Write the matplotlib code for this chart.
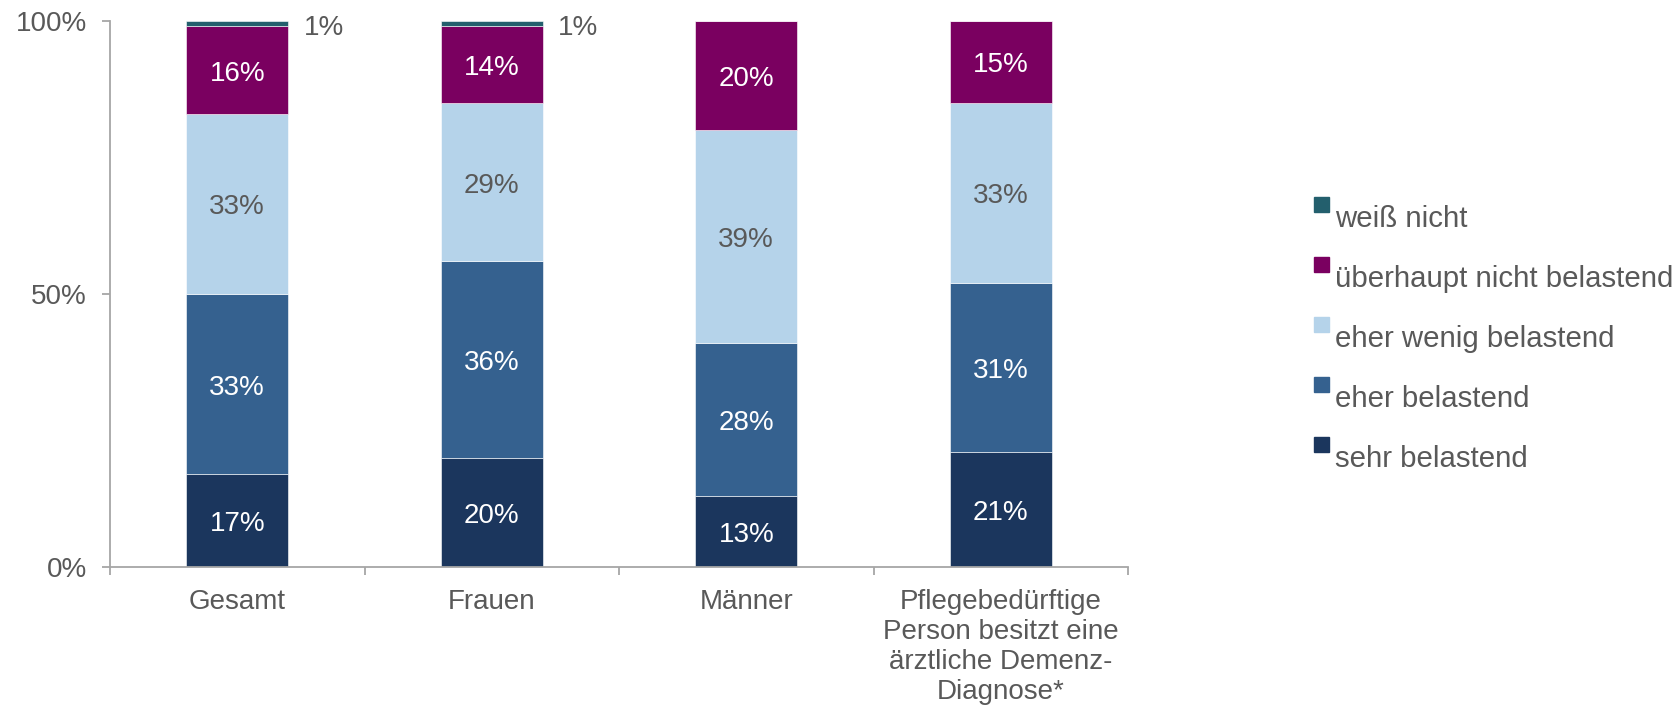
import matplotlib
matplotlib.use("Agg")
import matplotlib.pyplot as plt
from matplotlib.patches import Rectangle
import numpy as np

plt.rcParams['font.family'] = ['Liberation Sans', 'DejaVu Sans']

categories = ["Gesamt", "Frauen", "Männer",
              "Pflegebedürftige\nPerson besitzt eine\närztliche Demenz-\nDiagnose*"]
series_names = ["sehr belastend", "eher belastend", "eher wenig belastend",
                "überhaupt nicht belastend", "weiß nicht"]
sehr_belastend = [17, 20, 13, 21]
eher_belastend = [33, 36, 28, 31]
eher_wenig_belastend = [33, 29, 39, 33]
ueberhaupt_nicht_belastend = [16, 14, 20, 15]
weiss_nicht = [1, 1, 0, 0]
y_ticks = [0, 50, 100]
y_tick_labels = ["0%", "50%", "100%"]

series = [sehr_belastend, eher_belastend, eher_wenig_belastend,
          ueberhaupt_nicht_belastend, weiss_nicht]
colors = ["#1b365d", "#35618f", "#b5d3ea", "#7a0060", "#235f6d"]
label_colors = ["white", "white", "#595959", "white", "#595959"]
gray = "#595959"
axis_gray = "#a6a6a6"
fs = 20

fig = plt.figure(figsize=(16.77, 7.13), dpi=100)
ax = fig.add_axes([110 / 1677, 1 - 567 / 713, (1128 - 110) / 1677, (567 - 21) / 713])

x = np.arange(len(categories))
width = 0.4
bottom = np.zeros(len(categories))
for vals, col, lc in zip(series, colors, label_colors):
    vals = np.array(vals, dtype=float)
    ax.bar(x, vals, width, bottom=bottom, color=col, edgecolor="white", linewidth=0.4)
    for i, v in enumerate(vals):
        if v <= 0:
            continue
        if v >= 5:
            ax.annotate(f"{v:.0f}%", xy=(x[i], bottom[i] + v / 2),
                        xytext=(0, -2.5), textcoords="offset points",
                        ha="center", va="center", color=lc, fontsize=fs)
        else:
            ax.annotate(f"{v:.0f}%", xy=(x[i] + width / 2, bottom[i] + v / 2),
                        xytext=(11, -3), textcoords="offset points",
                        ha="left", va="center", color=gray, fontsize=fs)
    bottom += vals

ax.set_xlim(-0.5, len(categories) - 0.5)
ax.set_ylim(0, 100)

for s in ["top", "right"]:
    ax.spines[s].set_visible(False)
for s in ["left", "bottom"]:
    ax.spines[s].set_color(axis_gray)
    ax.spines[s].set_linewidth(1.3)

ax.set_yticks(y_ticks)
ax.set_yticklabels(y_tick_labels)
ax.tick_params(axis="y", direction="out", length=6, width=1.3, color=axis_gray,
               labelcolor=gray, labelsize=fs, pad=10.5)

ax.set_xticks(x)
ax.set_xticklabels(categories, linespacing=1.2)
ax.set_xticks(np.arange(-0.5, len(categories)), minor=True)
ax.tick_params(axis="x", which="major", length=0, labelcolor=gray, labelsize=fs, pad=16)
ax.tick_params(axis="x", which="minor", direction="out", length=6, width=1.3,
               color=axis_gray)
for t in ax.get_xticklabels():
    t.set_horizontalalignment("center")
    t.set_verticalalignment("top")

# legend: top entry is the last stacked series
W, H = 1677, 713
patch = 15
for k, idx in enumerate(reversed(range(len(series_names)))):
    top_px = 197 + k * 60
    fig.add_artist(Rectangle((1314 / W, 1 - (top_px + patch) / H), patch / W, patch / H,
                             transform=fig.transFigure, color=colors[idx]))
    fig.text(1335 / W, 1 - (top_px + 22) / H, series_names[idx], ha="left", va="center",
             color=gray, fontsize=21.2)

fig.savefig("out.png", dpi=100)
